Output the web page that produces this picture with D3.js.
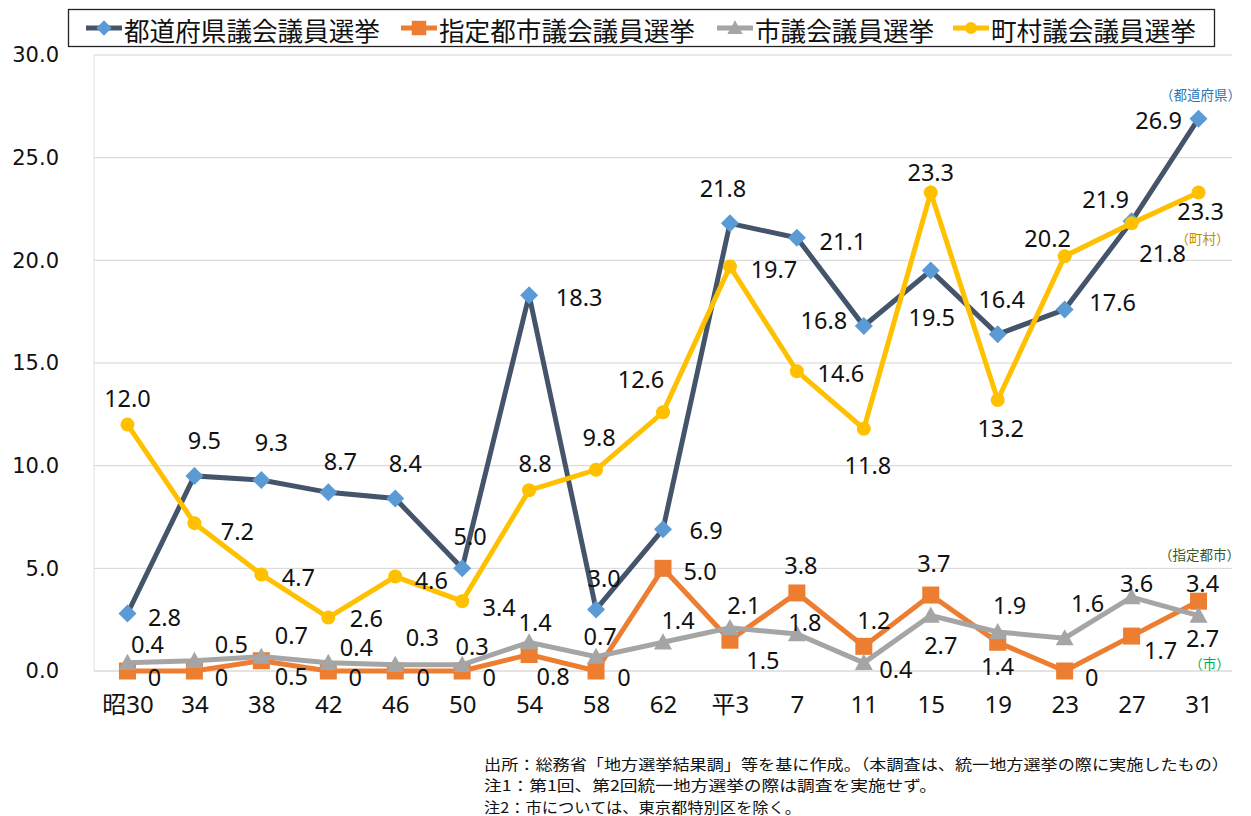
<!DOCTYPE html>
<html><head><meta charset="utf-8">
<script src="https://cdn.jsdelivr.net/npm/d3@7"></script>
<style>body{margin:0;background:#fff}</style>
</head><body><svg id="c" width="1251" height="816"></svg>
<script>
const categories = ["昭30","34","38","42","46","50","54","58","62","平3","7","11","15","19","23","27","31"];
const yTicks = [0,5,10,15,20,25,30];
const seriesNames = ["都道府県議会議員選挙","指定都市議会議員選挙","市議会議員選挙","町村議会議員選挙"];
const prefValues = [2.8,9.5,9.3,8.7,8.4,5.0,18.3,3.0,6.9,21.8,21.1,16.8,19.5,16.4,17.6,21.9,26.9];
const desigCityValues = [0,0,0.5,0,0,0,0.8,0,5.0,1.5,3.8,1.2,3.7,1.4,0,1.7,3.4];
const cityValues = [0.4,0.5,0.7,0.4,0.3,0.3,1.4,0.7,1.4,2.1,1.8,0.4,2.7,1.9,1.6,3.6,2.7];
const townValues = [12.0,7.2,4.7,2.6,4.6,3.4,8.8,9.8,12.6,19.7,14.6,11.8,23.3,13.2,20.2,21.8,23.3];
const endTags = ["（都道府県）","（指定都市）","（市）","（町村）"];
const notes = [
  "出所：総務省「地方選挙結果調」等を基に作成。（本調査は、統一地方選挙の際に実施したもの）",
  "注1：第1回、第2回統一地方選挙の際は調査を実施せず。",
  "注2：市については、東京都特別区を除く。"
];

// label offsets (layout only) relative to each point
const prefLabelOffsets = [[37,3],[10,-36],[10,-38],[12,-31],[10,-36],[8,-32],[50,2],[8,-31],[43,1],[-7,-35],[46,3],[-40,-6],[1,46],[4,-35],[48,-8],[-26,-22],[-40,1]];
const desigLabelOffsets = [[27,6],[27,6],[30,15],[27,6],[28,6],[27,6],[24,21],[28,6],[37,3],[33,20],[4,-28],[10,-26],[3,-32],[0,24],[27,6],[29,14],[4,-18]];
const cityLabelOffsets = [[20,-19],[37,-17],[30,-22],[28,-16],[27,-28],[10,-19],[6,-20],[4,-21],[15,-22],[14,-23],[8,-12],[32,6],[10,29],[12,-27],[23,-35],[5,-14],[4,22]];
const townLabelOffsets = [[0,-27],[43,8],[37,3],[38,0],[36,3],[37,6],[6,-27],[3,-33],[-22,-33],[44,3],[44,2],[4,36],[0,-21],[3,28],[-17,-18],[31,30],[2,18]];

const svg = d3.select("#c");
const plot = {left: 94, right: 1232, top: 55, bottom: 671};

const x = d3.scalePoint().domain(categories).range([plot.left, plot.right]).padding(0.5);
const y = d3.scaleLinear().domain([0, 30]).range([plot.bottom, plot.top]);

// gridlines
svg.append("g").selectAll("line").data(yTicks).join("line")
  .attr("x1", plot.left).attr("x2", plot.right)
  .attr("y1", d => y(d)).attr("y2", d => y(d))
  .attr("stroke", d => d === 0 ? "#c8c8c8" : "#d4d4d4").attr("stroke-width", 1);
svg.append("line").attr("x1", plot.left).attr("x2", plot.left)
  .attr("y1", plot.top).attr("y2", plot.bottom).attr("stroke", "#e0e0e0");

// y axis
const yAxis = d3.axisLeft(y).tickValues(yTicks).tickFormat(d3.format(".1f")).tickSize(0).tickPadding(0);
const gy = svg.append("g").attr("transform", `translate(59,0)`).call(yAxis);
gy.select(".domain").remove();
gy.selectAll("text").attr("font-family", "DejaVu Sans").attr("font-size", 21).attr("fill", "#111");

// x axis
const xAxis = d3.axisBottom(x).tickSize(0).tickPadding(0);
const gx = svg.append("g").attr("transform", `translate(0,${plot.bottom})`).call(xAxis);
gx.select(".domain").remove();
gx.selectAll("text").attr("font-family", "'Noto Sans','Noto Sans CJK JP'").attr("font-size", 24)
  .attr("fill", "#111").attr("dy", 0).attr("y", 42).attr("dominant-baseline", "auto");

const diamond = (cx, cy, r) => `M${cx},${cy-r}L${cx+r},${cy}L${cx},${cy+r}L${cx-r},${cy}Z`;
const square = (cx, cy, r) => `M${cx-r},${cy-r}h${2*r}v${2*r}h${-2*r}Z`;
const triangle = (cx, cy, r) => `M${cx},${cy-r}L${cx+r},${cy+r*0.8}L${cx-r},${cy+r*0.8}Z`;
const circle = (cx, cy, r) => `M${cx-r},${cy}a${r},${r} 0 1,0 ${2*r},0a${r},${r} 0 1,0 ${-2*r},0Z`;

const series = [
  {values: prefValues, line: "#44546a", marker: "#5b9bd5", shape: diamond, r: 9, offs: prefLabelOffsets},
  {values: desigCityValues, line: "#ed7d31", marker: "#ed7d31", shape: square, r: 8.5, offs: desigLabelOffsets},
  {values: cityValues, line: "#a5a5a5", marker: "#a5a5a5", shape: triangle, r: 9, offs: cityLabelOffsets},
  {values: townValues, line: "#ffc000", marker: "#ffc000", shape: circle, r: 7, offs: townLabelOffsets}
];

const lineGen = d3.line().x((d, i) => x(categories[i])).y(d => y(d));
series.forEach(s => {
  const g = svg.append("g");
  g.append("path").attr("d", lineGen(s.values)).attr("fill", "none")
    .attr("stroke", s.line).attr("stroke-width", 5).attr("stroke-linejoin", "miter");
  g.selectAll("path.m").data(s.values).join("path").attr("class", "m")
    .attr("d", (d, i) => s.shape(x(categories[i]), y(d), s.r)).attr("fill", s.marker);
});

const fmt = v => v === 0 ? "0" : v.toFixed(1);
series.forEach(s => {
  svg.append("g").selectAll("text").data(s.values).join("text")
    .attr("x", (d, i) => x(categories[i]) + s.offs[i][0])
    .attr("y", (d, i) => y(d) + s.offs[i][1])
    .attr("text-anchor", "middle").attr("dominant-baseline", "central")
    .attr("font-family", "'Noto Sans'").attr("font-size", 23.5).attr("fill", "#111")
    .text(d => fmt(d));
});

// end tags
const last = categories[categories.length - 1];
const tagColors = ["#2e75b6", "#375623", "#00b050", "#bf9000"];
const tagPos = [[prefValues, 2, -25], [desigCityValues, 1, -47], [cityValues, 11, 47], [townValues, 4, 45]];
tagPos.forEach((t, k) => {
  svg.append("text").attr("x", x(last) + t[1]).attr("y", y(t[0][t[0].length - 1]) + t[2])
    .attr("text-anchor", "middle").attr("dominant-baseline", "central")
    .attr("font-family", "'Noto Sans CJK JP'").attr("font-size", 13.5).attr("fill", tagColors[k])
    .text(endTags[k]);
});

// legend
const legend = svg.append("g");
legend.append("rect").attr("x", 68.5).attr("y", 9.5).attr("width", 1146).attr("height", 37)
  .attr("fill", "#fff").attr("stroke", "#222").attr("stroke-width", 1.3);
const legX = [86, 401, 717, 953];
series.forEach((s, k) => {
  const g = legend.append("g").attr("transform", `translate(${legX[k]},28)`);
  g.append("line").attr("x1", 0).attr("x2", 36).attr("stroke", s.line).attr("stroke-width", 5);
  g.append("path").attr("d", s.shape(18, 0, s.r * 0.85)).attr("fill", s.marker);
  g.append("text").attr("x", 38).attr("y", 1).attr("dominant-baseline", "central")
    .attr("font-family", "'Noto Sans CJK JP'").attr("font-size", 25.6).attr("fill", "#111")
    .text(seriesNames[k]);
});

// notes
const noteLen = [745, 453, 317];
svg.append("g").selectAll("text").data(notes).join("text")
  .attr("x", 484).attr("y", (d, i) => 763 + i * 21.5)
  .attr("dominant-baseline", "central")
  .attr("font-family", "'Noto Sans CJK JP'").attr("font-size", 15).attr("fill", "#111")
  .attr("textLength", (d, i) => noteLen[i]).attr("lengthAdjust", "spacingAndGlyphs")
  .text(d => d);
</script></body></html>
